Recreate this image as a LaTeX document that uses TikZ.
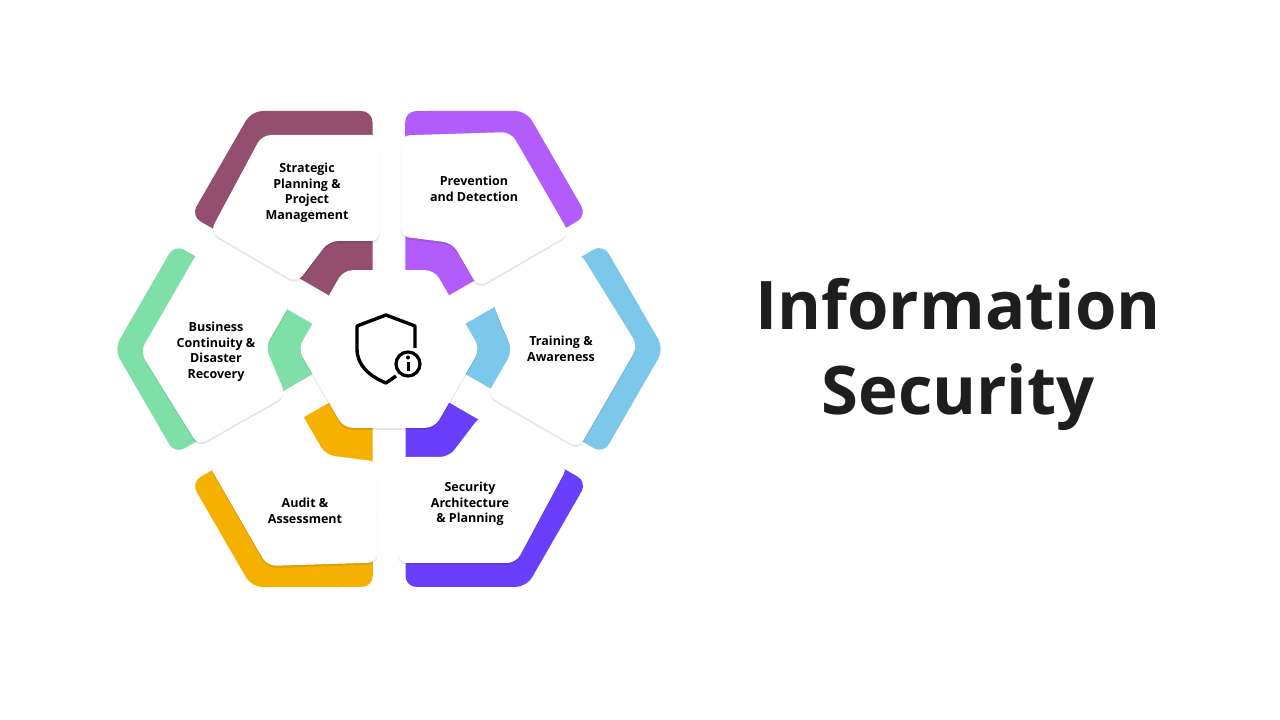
\documentclass[tikz,border=0pt]{standalone}
\usepackage{fontspec}
\setmainfont{Open Sans}
\usetikzlibrary{shadows}

\definecolor{plum}{HTML}{944F6E}
\definecolor{lilac}{HTML}{B25DFB}
\definecolor{sky}{HTML}{7CC8EA}
\definecolor{indigo}{HTML}{6A3FFB}
\definecolor{amber}{HTML}{F5B000}
\definecolor{mint}{HTML}{7FE0A7}
\definecolor{ink}{HTML}{1E1E1E}

\tikzset{
    card/.style={fill=white, rounded corners=9,
        drop shadow={shadow xshift=0pt, shadow yshift=-2pt, opacity=0.10, fill=black}},
    label/.style={font=\bfseries\fontsize{12.5}{15.5}\selectfont, text=black, align=center}
}

\begin{document}
\begin{tikzpicture}[x=1pt,y=1pt]
    \useasboundingbox (0,0) rectangle (1280,720);
    \fill[white] (0,0) rectangle (1280,720);

    \begin{scope}[shift={(389,371)}]
        % Segmentos coloridos
        \foreach \rot/\col in {0/plum,-60/lilac,-120/sky,-180/indigo,120/amber,60/mint} {
            \fill[\col, rounded corners=11, rotate=\rot]
                (-16.5,238) -- (-137.5,238) -- (-198,133) -- (-16.5,28.6) -- cycle;
        }

        % Cartões brancos
        \foreach \rot in {0,-60,-120,-180,120,60} {
            \path[card, rotate=\rot]
                (-127,214) -- (-9,214) -- (-9,108) -- (-60,108) -- (-92,66) -- (-179,117) -- cycle;
        }

        % Hexágono central
        \path[card] (0:91) -- (60:91) -- (120:91) -- (180:91) -- (240:91) -- (300:91) -- cycle;

        % Ícone
        \draw[line width=3.4, line join=round]
            (26,1) -- (26,23) -- (-3,34) -- (-32,23) -- (-32,0)
            .. controls (-32,-16) and (-20,-27) .. (-3,-34) -- (7,-27);
        \draw[line width=3.2] (19,-15) circle (12);
        \fill (19,-8.5) circle (2);
        \draw[line width=3] (19,-13) -- (19,-22);
    \end{scope}

    % Rótulos
    \node[label] (strategic) at (307,527) {Strategic\\Planning \&\\Project\\Management};
    \node[label] (prevention) at (474,531) {Prevention\\and Detection};
    \node[label] (training) at (561,371) {Training \&\\Awareness};
    \node[label] (architecture) at (470,216) {Security\\Architecture\\\& Planning};
    \node[label] (audit) at (305,209) {Audit \&\\Assessment};
    \node[label] (continuity) at (216,368) {Business\\Continuity \&\\Disaster\\Recovery};

    \node[font=\bfseries\fontsize{67}{85}\selectfont, text=ink, align=center] (title) at (958,366)
        {Information\\Security};
\end{tikzpicture}
\end{document}
